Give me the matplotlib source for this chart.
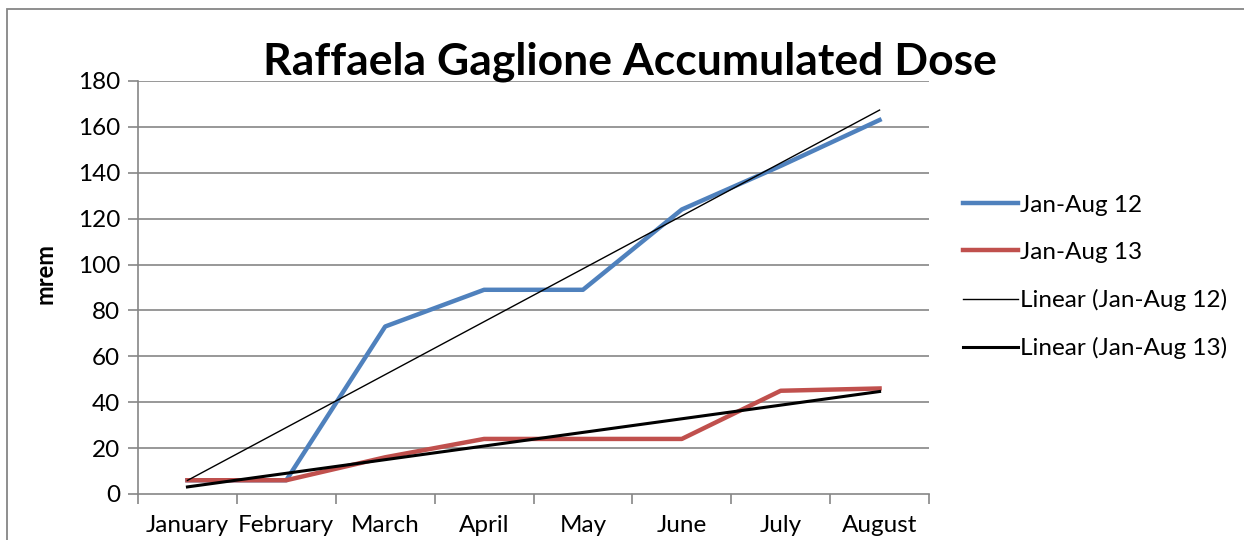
import matplotlib
matplotlib.use("Agg")
import matplotlib.pyplot as plt
import numpy as np
from matplotlib.patches import Rectangle

months = ["January", "February", "March", "April", "May", "June", "July", "August"]
dose_12 = [6, 6, 73, 89, 89, 124, 143, 163]
dose_13 = [6, 6, 16, 24, 24, 24, 45, 46]
yticks = [0, 20, 40, 60, 80, 100, 120, 140, 160, 180]

plt.rcParams['font.family'] = ['Lato', 'DejaVu Sans']

fig = plt.figure(figsize=(12.44, 5.4), dpi=100)
W, H = 1244, 540
# chart border
fig.patches.append(Rectangle((7 / W, -0.1), 1.2, 1 - 9 / H + 0.1, transform=fig.transFigure,
                             fill=False, edgecolor="#868686", linewidth=1.3))

ax = fig.add_axes([138 / W, 1 - 494 / H, (929 - 138) / W, (494 - 81) / H])
x = np.arange(len(months))
gray = "#868686"

for y in yticks[1:]:
    ax.axhline(y, color=gray, linewidth=1.2, zorder=1)

ax.plot(x, dose_12, color="#4F81BD", linewidth=3.2, label="Jan-Aug 12", zorder=3)
ax.plot(x, dose_13, color="#C0504D", linewidth=3.2, label="Jan-Aug 13", zorder=3)

xi = x + 1
p12 = np.polyfit(xi, dose_12, 1)
p13 = np.polyfit(xi, dose_13, 1)
ax.plot(x, np.polyval(p12, xi), color="black", linewidth=1.0, label="Linear (Jan-Aug 12)", zorder=4)
ax.plot(x, np.polyval(p13, xi), color="black", linewidth=2.2, label="Linear (Jan-Aug 13)", zorder=4)

ax.set_xlim(-0.5, len(months) - 0.5)
ax.set_ylim(0, 180)
ax.set_yticks(yticks)
ax.set_yticklabels([str(v) for v in yticks], fontsize=17.5)
ax.set_xticks(x)
ax.set_xticklabels(months, fontsize=17.5)
ax.set_xticks(np.arange(-0.5, len(months)), minor=True)
ax.tick_params(axis="x", which="major", length=0, pad=15)
ax.tick_params(axis="x", which="minor", length=7, color=gray, width=1.2)
ax.tick_params(axis="y", length=7, color=gray, width=1.2, pad=6)

for s in ["top", "right"]:
    ax.spines[s].set_visible(False)
for s in ["left", "bottom"]:
    ax.spines[s].set_color(gray)
    ax.spines[s].set_linewidth(1.2)

fig.text(45 / W, 1 - 273 / H, "mrem", fontsize=17, fontweight="bold", rotation=90,
         ha="center", va="center")

fig.text(630 / W, 1 - 62 / H, "Raffaela Gaglione Accumulated Dose", fontsize=32,
         fontweight="bold", ha="center", va="center")

leg = ax.legend(loc="center left", bbox_to_anchor=(941 / W, 1 - 277 / H), bbox_transform=fig.transFigure,
                frameon=False, fontsize=17.5, handlelength=2.25, handletextpad=0.12, labelspacing=1.07)

fig.savefig("out.png", dpi=100)
